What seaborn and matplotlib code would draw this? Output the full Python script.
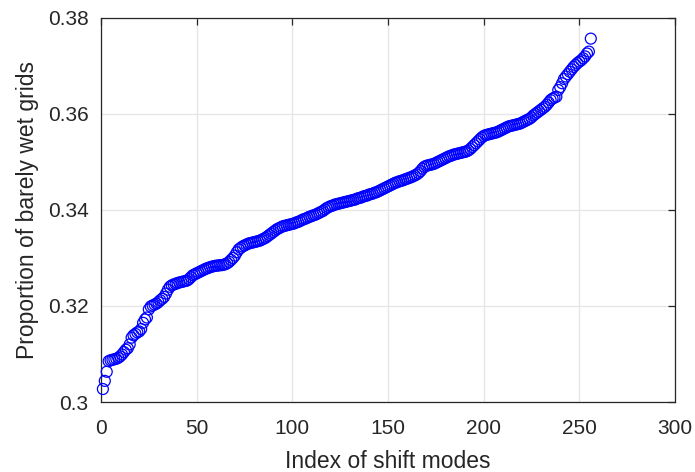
import numpy as np
import pandas as pd
import matplotlib
matplotlib.use("Agg")
import matplotlib.pyplot as plt
import seaborn as sns

# Sorted proportion of barely wet grids for each of the 256 shift modes
proportion = [
    0.3027, 0.3044, 0.3063, 0.3085, 0.3087, 0.3088, 0.3089, 0.3090, 0.3092, 0.3095,
    0.3099, 0.3104, 0.3109, 0.3112, 0.3120, 0.3134, 0.3139, 0.3142, 0.3145, 0.3147,
    0.3152, 0.3165, 0.3172, 0.3176, 0.3193, 0.3199, 0.3201, 0.3203, 0.3205, 0.3208,
    0.3212, 0.3215, 0.3219, 0.3226, 0.3234, 0.3240, 0.3243, 0.3245, 0.3246, 0.3248,
    0.3249, 0.3250, 0.3251, 0.3252, 0.3253, 0.3256, 0.3260, 0.3264, 0.3266, 0.3268,
    0.3270, 0.3272, 0.3274, 0.3276, 0.3278, 0.3279, 0.3281, 0.3282, 0.3283, 0.3284,
    0.3284, 0.3285, 0.3285, 0.3286, 0.3287, 0.3289, 0.3292, 0.3296, 0.3300, 0.3305,
    0.3312, 0.3318, 0.3321, 0.3324, 0.3326, 0.3328, 0.3330, 0.3331, 0.3332, 0.3333,
    0.3334, 0.3335, 0.3336, 0.3338, 0.3340, 0.3342, 0.3345, 0.3348, 0.3351, 0.3354,
    0.3357, 0.3360, 0.3362, 0.3364, 0.3366, 0.3367, 0.3368, 0.3369, 0.3370, 0.3371,
    0.3372, 0.3374, 0.3375, 0.3377, 0.3379, 0.3381, 0.3382, 0.3384, 0.3386, 0.3387,
    0.3389, 0.3390, 0.3392, 0.3394, 0.3396, 0.3398, 0.3401, 0.3404, 0.3406, 0.3408,
    0.3409, 0.3411, 0.3412, 0.3413, 0.3414, 0.3415, 0.3416, 0.3417, 0.3418, 0.3419,
    0.3420, 0.3421, 0.3422, 0.3424, 0.3425, 0.3426, 0.3428, 0.3429, 0.3430, 0.3432,
    0.3433, 0.3434, 0.3436, 0.3437, 0.3439, 0.3441, 0.3443, 0.3445, 0.3447, 0.3449,
    0.3451, 0.3453, 0.3455, 0.3457, 0.3458, 0.3460, 0.3461, 0.3462, 0.3464, 0.3465,
    0.3467, 0.3468, 0.3470, 0.3472, 0.3474, 0.3477, 0.3481, 0.3486, 0.3490, 0.3492,
    0.3493, 0.3494, 0.3495, 0.3496, 0.3498, 0.3500, 0.3502, 0.3504, 0.3506, 0.3508,
    0.3510, 0.3512, 0.3513, 0.3515, 0.3516, 0.3517, 0.3518, 0.3519, 0.3520, 0.3521,
    0.3522, 0.3524, 0.3527, 0.3531, 0.3535, 0.3539, 0.3543, 0.3547, 0.3551, 0.3554,
    0.3556, 0.3557, 0.3558, 0.3559, 0.3560, 0.3561, 0.3562, 0.3564, 0.3566, 0.3568,
    0.3570, 0.3572, 0.3574, 0.3575, 0.3576, 0.3577, 0.3578, 0.3579, 0.3580, 0.3582,
    0.3584, 0.3586, 0.3588, 0.3590, 0.3593, 0.3597, 0.3600, 0.3603, 0.3606, 0.3609,
    0.3612, 0.3615, 0.3619, 0.3624, 0.3629, 0.3632, 0.3634, 0.3636, 0.3650, 0.3656,
    0.3664, 0.3673, 0.3678, 0.3683, 0.3688, 0.3693, 0.3698, 0.3702, 0.3706, 0.3709,
    0.3712, 0.3716, 0.3720, 0.3726, 0.3730, 0.3757,
]
mode_index = list(range(1, len(proportion) + 1))

x_ticks = [0, 50, 100, 150, 200, 250, 300]
y_ticks = [0.30, 0.32, 0.34, 0.36, 0.38]
y_tick_labels = ["0.3", "0.32", "0.34", "0.36", "0.38"]

df = pd.DataFrame({"mode": mode_index, "proportion": proportion})

sns.set_theme(style="white")
plt.rcParams["font.family"] = ["Liberation Sans", "DejaVu Sans"]

fig = plt.figure(figsize=(6.95, 4.72), dpi=100)
ax = fig.add_axes([0.1453, 0.1483, 0.8259, 0.8136])

sns.scatterplot(
    data=df, x="mode", y="proportion", ax=ax,
    marker="o", s=62, facecolor="none", edgecolor="#0000ff", linewidth=0.9,
    legend=False, zorder=3, clip_on=False,
)

ax.set_xlim(0, 300)
ax.set_ylim(0.30, 0.38)
ax.set_xticks(x_ticks)
ax.set_xticklabels([str(t) for t in x_ticks])
ax.set_yticks(y_ticks)
ax.set_yticklabels(y_tick_labels)

ax.grid(True, color="#e6e6e6", linewidth=1.0, zorder=0)
ax.set_axisbelow(True)
for side in ["left", "right", "top", "bottom"]:
    ax.spines[side].set_visible(True)
    ax.spines[side].set_color("#262626")
    ax.spines[side].set_linewidth(0.9)

ax.tick_params(axis="both", which="major", direction="in", length=5, width=0.9,
               color="#262626", labelcolor="#262626", labelsize=15,
               top=True, right=True)
ax.tick_params(axis="y", pad=9)
ax.tick_params(axis="x", pad=12)

ax.set_xlabel("Index of shift modes", fontsize=16.5, color="#262626", labelpad=9)
ax.set_ylabel("Proportion of barely wet grids", fontsize=16.5, color="#262626", labelpad=6)

fig.savefig("out.png", dpi=100, facecolor="white")
